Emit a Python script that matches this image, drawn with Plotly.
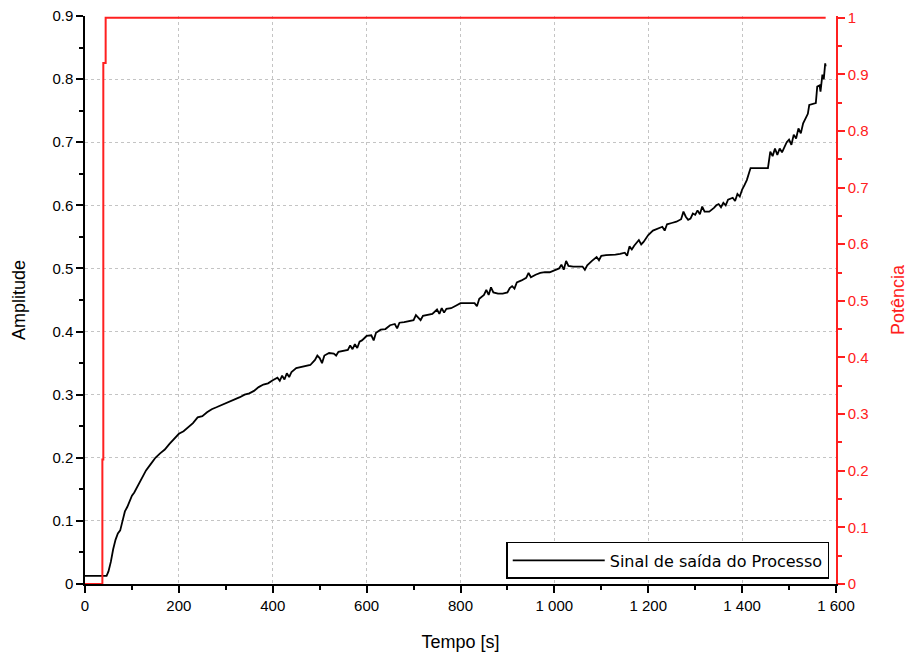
import plotly.graph_objects as go

# Process output signal (Amplitude) sampled over time [s]
tempo = [0, 46, 50, 55, 60, 65, 70, 75, 80, 85, 90, 95, 100, 105, 110, 115, 120, 125, 130,
         140, 150, 160, 170, 180, 190, 200, 210, 220, 230, 240, 250, 260, 270, 280, 290,
         300, 310, 320, 330, 340, 350, 360, 370, 380, 390, 400, 410, 415, 420, 425, 430,
         435, 440, 450, 460, 470, 480, 490, 495, 500, 505, 510, 520, 530, 535, 540, 550,
         560, 565, 570, 575, 580, 585, 590, 600, 610, 615, 620, 630, 640, 650, 660, 665,
         670, 680, 690, 700, 705, 710, 715, 720, 730, 740, 750, 755, 760, 765, 770, 780,
         790, 800, 810, 820, 830, 835, 840, 850, 855, 860, 865, 870, 880, 890, 900, 905,
         910, 915, 920, 930, 940, 945, 950, 960, 970, 980, 990, 1000, 1010, 1015, 1020,
         1025, 1030, 1040, 1050, 1060, 1065, 1070, 1080, 1085, 1090, 1095, 1100, 1110,
         1120, 1130, 1140, 1150, 1155, 1160, 1165, 1170, 1180, 1185, 1190, 1200, 1210,
         1220, 1230, 1235, 1240, 1250, 1260, 1270, 1275, 1280, 1285, 1290, 1295, 1300,
         1305, 1310, 1315, 1320, 1330, 1340, 1345, 1350, 1355, 1360, 1365, 1370, 1380,
         1385, 1390, 1395, 1400, 1405, 1410, 1415, 1418, 1455, 1460, 1465, 1470, 1475,
         1480, 1485, 1490, 1495, 1500, 1505, 1510, 1515, 1520, 1525, 1530, 1535, 1540,
         1543, 1557, 1560, 1565, 1567, 1571, 1574, 1577, 1578]
amplitude = [0.013, 0.013, 0.02, 0.035, 0.055, 0.07, 0.08, 0.085, 0.1, 0.115, 0.122, 0.13,
             0.14, 0.145, 0.152, 0.157, 0.165, 0.172, 0.18, 0.19, 0.2, 0.207, 0.213, 0.222,
             0.23, 0.238, 0.242, 0.248, 0.255, 0.264, 0.266, 0.272, 0.277, 0.28, 0.283,
             0.287, 0.29, 0.293, 0.296, 0.3, 0.302, 0.306, 0.312, 0.316, 0.318, 0.323,
             0.327, 0.322, 0.33, 0.324, 0.334, 0.328, 0.336, 0.342, 0.344, 0.346, 0.347,
             0.355, 0.362, 0.358, 0.35, 0.362, 0.366, 0.365, 0.362, 0.368, 0.37, 0.371,
             0.378, 0.372, 0.38, 0.374, 0.384, 0.386, 0.393, 0.394, 0.386, 0.398, 0.403,
             0.404, 0.41, 0.412, 0.405, 0.414, 0.415, 0.416, 0.418, 0.426, 0.422, 0.418,
             0.425, 0.426, 0.428, 0.435, 0.428, 0.437, 0.43, 0.436, 0.437, 0.441, 0.445,
             0.445, 0.445, 0.445, 0.44, 0.452, 0.458, 0.466, 0.458, 0.47, 0.462, 0.46,
             0.46, 0.462, 0.469, 0.472, 0.468, 0.478, 0.481, 0.485, 0.493, 0.486, 0.49,
             0.493, 0.494, 0.494, 0.497, 0.5, 0.506, 0.498, 0.512, 0.504, 0.503, 0.503,
             0.503, 0.498, 0.505, 0.512, 0.515, 0.518, 0.513, 0.52, 0.521, 0.521, 0.522,
             0.523, 0.525, 0.52, 0.535, 0.53, 0.536, 0.545, 0.538, 0.542, 0.553, 0.56,
             0.563, 0.566, 0.56, 0.57, 0.572, 0.574, 0.578, 0.59, 0.582, 0.577, 0.579,
             0.587, 0.585, 0.592, 0.586, 0.598, 0.59, 0.59, 0.596, 0.6, 0.602, 0.597,
             0.604, 0.6, 0.609, 0.612, 0.607, 0.618, 0.614, 0.625, 0.632, 0.64, 0.652,
             0.659, 0.659, 0.685, 0.678, 0.69, 0.68, 0.69, 0.684, 0.692, 0.7, 0.704, 0.696,
             0.712, 0.706, 0.722, 0.714, 0.73, 0.738, 0.745, 0.759, 0.762, 0.788, 0.79,
             0.78, 0.807, 0.8, 0.825, 0.82]

# Applied power (Potência), step input
tempo_pot = [0, 37, 37, 39, 39, 44, 44, 1578]
potencia = [0, 0, 0.22, 0.22, 0.92, 0.92, 1, 1]

x_tick_vals = [0, 200, 400, 600, 800, 1000, 1200, 1400, 1600]
x_tick_labels = ["0", "200", "400", "600", "800", "1 000", "1 200", "1 400", "1 600"]
y_tick_vals = [0, 0.1, 0.2, 0.3, 0.4, 0.5, 0.6, 0.7, 0.8, 0.9]
y_tick_labels = ["0", "0.1", "0.2", "0.3", "0.4", "0.5", "0.6", "0.7", "0.8", "0.9"]
y2_tick_vals = [0, 0.1, 0.2, 0.3, 0.4, 0.5, 0.6, 0.7, 0.8, 0.9, 1]
y2_tick_labels = ["0", "0.1", "0.2", "0.3", "0.4", "0.5", "0.6", "0.7", "0.8", "0.9", "1"]

RED = "#ff2020"
FAMILY = "Liberation Sans, Arial, sans-serif"
TICK_FONT = dict(family=FAMILY, size=15, color="black")
TITLE_FONT = dict(family=FAMILY, size=18, color="black")
GRID = "#c4c4c4"

fig = go.Figure()
fig.add_trace(go.Scatter(
    x=tempo_pot, y=potencia, mode="lines", yaxis="y2",
    line=dict(color=RED, width=2), showlegend=False, name="Potência"))
fig.add_trace(go.Scatter(
    x=tempo, y=amplitude, mode="lines",
    line=dict(color="black", width=1.8), name="Sinal de saída do Processo"))

fig.update_layout(
    width=911, height=662,
    margin=dict(l=85, r=75, t=16, b=78),
    paper_bgcolor="white", plot_bgcolor="white",
    xaxis=dict(
        range=[0, 1600], tickvals=x_tick_vals, ticktext=x_tick_labels,
        automargin=False,
        showline=True, linecolor="black", linewidth=1.5,
        ticks="outside", ticklen=7, tickcolor="black", tickwidth=1.5,
        minor=dict(ticks="outside", ticklen=4, dtick=100, tickcolor="black", showgrid=False),
        showgrid=True, gridcolor=GRID, griddash="dot", gridwidth=1,
        zeroline=False, tickfont=TICK_FONT,
        title=dict(text="Tempo [s]", font=TITLE_FONT, standoff=23),
    ),
    yaxis=dict(
        range=[0, 0.9], tickvals=y_tick_vals, ticktext=y_tick_labels,
        automargin=False,
        showline=True, linecolor="black", linewidth=1.5,
        ticks="outside", ticklen=7, tickcolor="black", tickwidth=1.5,
        minor=dict(ticks="outside", ticklen=4, dtick=0.05, tickcolor="black", showgrid=False),
        showgrid=True, gridcolor=GRID, griddash="dot", gridwidth=1,
        zeroline=False, tickfont=TICK_FONT,
        title=dict(text="Amplitude", font=TITLE_FONT, standoff=22),
    ),
    yaxis2=dict(
        range=[0, 1.003], overlaying="y", side="right",
        tickvals=y2_tick_vals, ticktext=y2_tick_labels,
        automargin=False,
        showline=True, linecolor=RED, linewidth=1.5,
        ticks="outside", ticklen=7, tickcolor=RED, tickwidth=1.5,
        minor=dict(ticks="outside", ticklen=4, dtick=0.05, tickcolor=RED, showgrid=False),
        showgrid=False, zeroline=False,
        tickfont=dict(family=FAMILY, size=15, color=RED),
        title=dict(text="Potência", font=dict(family=FAMILY, size=18, color=RED),
                   standoff=24),
    ),
    legend=dict(
        x=0.991, y=0.009, xanchor="right", yanchor="bottom",
        bgcolor="white", bordercolor="black", borderwidth=1.5,
        font=dict(family="DejaVu Sans, sans-serif", size=16, color="black"),
        itemwidth=92,
    ),
)

fig.write_html("out.html")
